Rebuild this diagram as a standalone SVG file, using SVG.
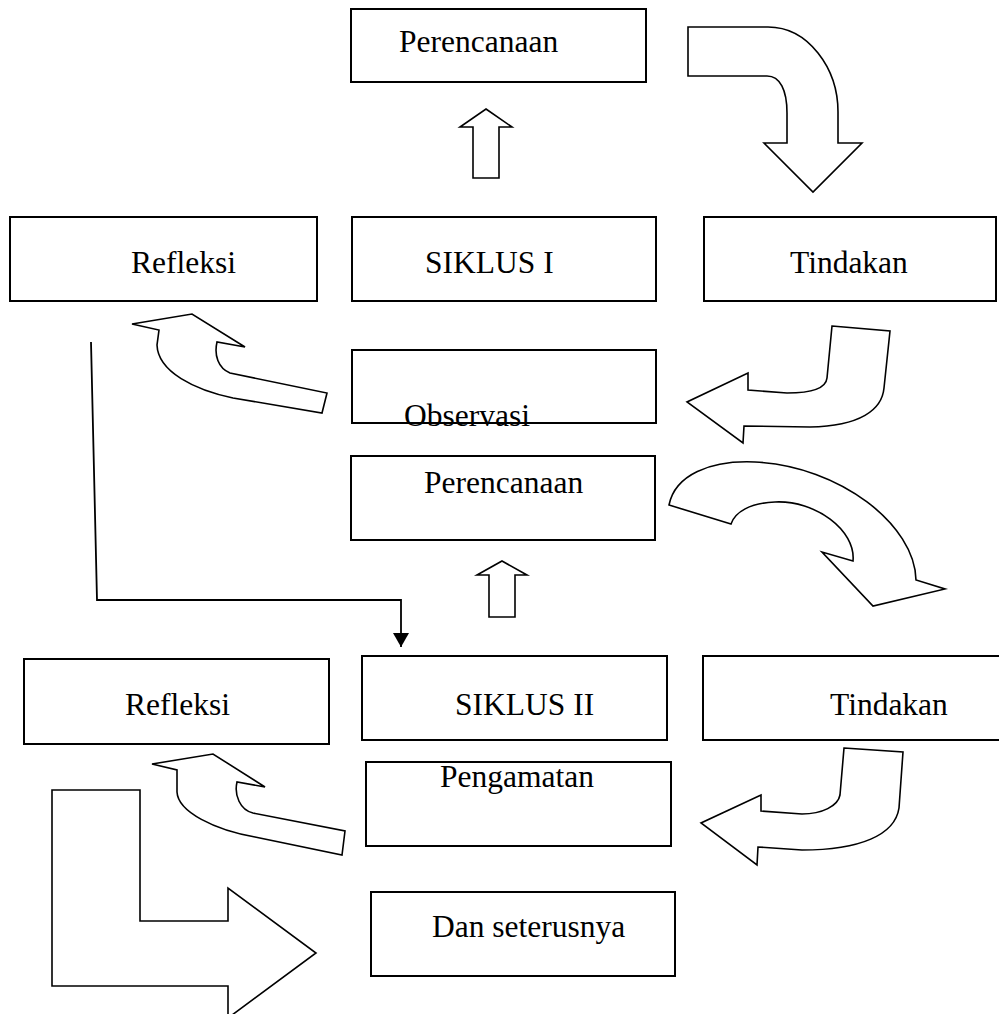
<svg xmlns="http://www.w3.org/2000/svg" width="999" height="1014" viewBox="0 0 999 1014">
<style>
.box{fill:#fff;stroke:#000;stroke-width:2}
.arr{fill:#fff;stroke:#000;stroke-width:1.6;stroke-linejoin:miter}
.lbl{font-family:"Liberation Serif","Times New Roman",serif;font-size:31.5px;fill:#000}
.con{fill:none;stroke:#000;stroke-width:1.8}
</style>
<defs>
<marker id="ah" markerUnits="userSpaceOnUse" markerWidth="16" markerHeight="16" refX="14" refY="8" orient="auto"><path d="M0,0 L14,8 L0,16 Z" fill="#000"/></marker>
</defs>
<rect width="999" height="1014" fill="#fff"/>
<g id="connectors">
<path class="con" d="M91,342 L97,600 L401,600 L401,647" marker-end="url(#ah)"/>
<path id="arrow-up-1" class="arr" d="M486,109 L512,127 L499,127 L499,178 L473,178 L473,127 L460,127 Z"/>
<path id="arrow-up-2" class="arr" d="M502,561 L527,575 L515,575 L515,617 L489,617 L489,575 L477,575 Z"/>
<path id="arrow-plan1-act1" class="arr" d="M688,27 L768,27 C808,27 838,68 838,112 L838,143 L862,143 L813,192 L764,143 L787,143 L787,113 C787,90 780,76 767,76 L688,76 Z"/>
<path id="arrow-act1-obs" class="arr" d="M832,326 L890,331 L884,388 C882,410 860,426 810,427 L744,426 L743,443 L687,402 L748,373 L748,390 L787,393 C812,393 826,388 827,378 Z"/>
<path id="arrow-obs-ref1" class="arr" d="M132,324 L192,314 L245,347 L217,342 C214,355 218,368 230,373 L327,393 L322,413 L233,398 C195,390 158,372 157,345 L159,330 Z"/>
<path id="arrow-plan2-act2" class="arr" d="M669,505 C675,475 710,460 755,462 C840,466 915,525 916,580 L945,589 L873,606 L822,552 L853,561 C856,530 815,500 775,502 C750,503 735,512 731,524 Z"/>
<path id="arrow-act2-obs2" class="arr" d="M844,748 L903,752 L899,808 C895,835 860,850 802,850 L758,847 L757,865 L701,823 L761,795 L761,811 L802,814 C822,814 838,806 840,795 Z"/>
<path id="arrow-obs2-ref2" class="arr" d="M152,764 L213,754 L265,787 L237,782 C234,795 240,810 253,813 L345,831 L342,855 L255,837 C215,830 178,812 177,792 L177,770 Z"/>
<path id="arrow-next" class="arr" d="M52,790 L140,790 L140,921 L228,921 L228,888 L316,953 L228,1018 L228,986 L52,986 Z"/>
</g>
<g id="n-perencanaan1"><rect class="box" x="351" y="9" width="295" height="73"/><text class="lbl" x="399" y="52">Perencanaan</text></g>
<g id="n-refleksi1"><rect class="box" x="10" y="217" width="307" height="84"/><text class="lbl" x="131" y="273">Refleksi</text></g>
<g id="n-siklus1"><rect class="box" x="352" y="217" width="304" height="84"/><text class="lbl" x="425" y="273">SIKLUS I</text></g>
<g id="n-tindakan1"><rect class="box" x="704" y="217" width="292" height="84"/><text class="lbl" x="790" y="273">Tindakan</text></g>
<g id="n-observasi"><rect class="box" x="352" y="350" width="304" height="73"/><text class="lbl" x="404" y="426">Observasi</text></g>
<g id="n-perencanaan2"><rect class="box" x="351" y="456" width="304" height="84"/><text class="lbl" x="424" y="493">Perencanaan</text></g>
<g id="n-refleksi2"><rect class="box" x="24" y="659" width="305" height="85"/><text class="lbl" x="125" y="715">Refleksi</text></g>
<g id="n-siklus2"><rect class="box" x="362" y="656" width="305" height="84"/><text class="lbl" x="455" y="715">SIKLUS II</text></g>
<g id="n-tindakan2"><rect class="box" x="703" y="656" width="310" height="84"/><text class="lbl" x="830" y="715">Tindakan</text></g>
<g id="n-pengamatan"><rect class="box" x="366" y="762" width="305" height="84"/><text class="lbl" x="440" y="787">Pengamatan</text></g>
<g id="n-dan-seterusnya"><rect class="box" x="371" y="892" width="304" height="84"/><text class="lbl" x="432" y="937">Dan seterusnya</text></g>
</svg>
